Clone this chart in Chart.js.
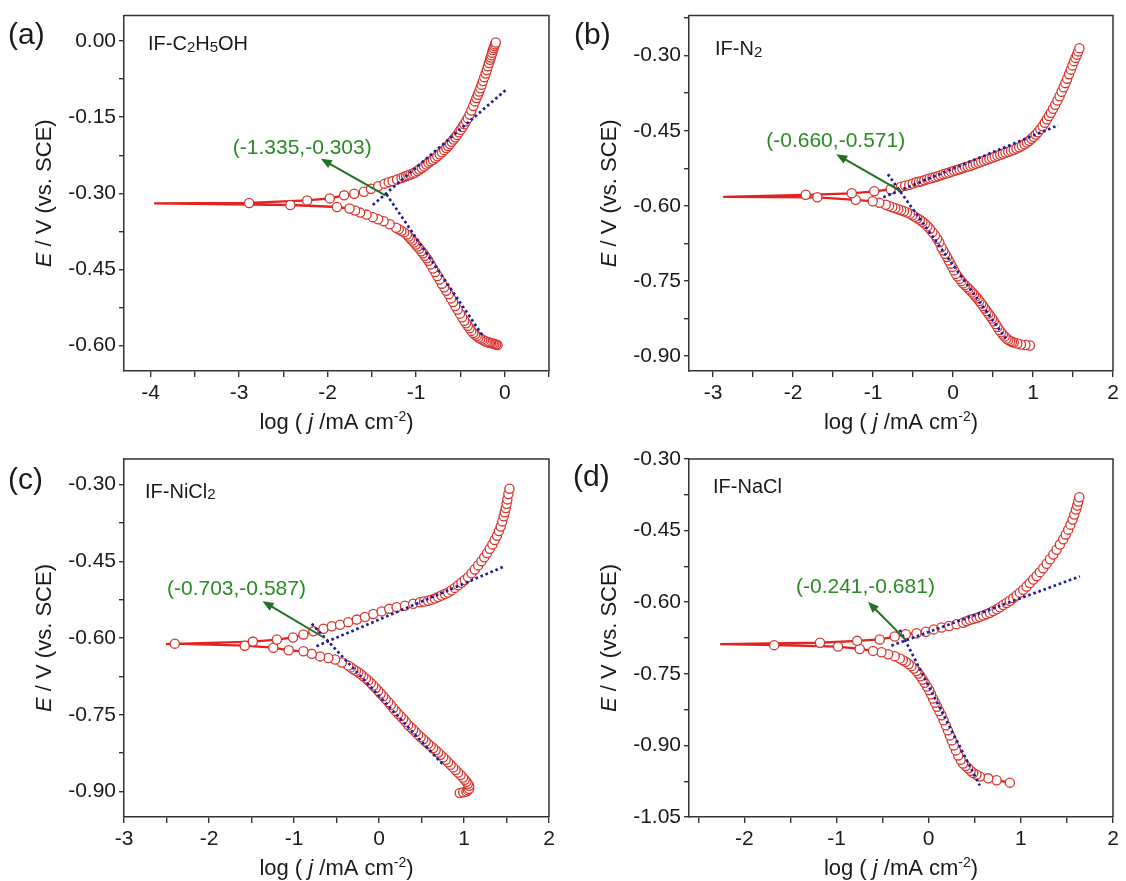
<!DOCTYPE html>
<html>
<head>
<meta charset="utf-8">
<script src="https://cdn.jsdelivr.net/npm/chart.js@4.4.1/dist/chart.umd.min.js"></script>
<style>
  body { margin: 0; background: #fff; }
  #wrap { position: relative; width: 1126px; height: 881px; }
  canvas { position: absolute; }
</style>
</head>
<body>
<div id="wrap">
  <canvas id="pa" width="563" height="440" style="left:0;top:0"></canvas>
  <canvas id="pb" width="563" height="440" style="left:563px;top:0"></canvas>
  <canvas id="pc" width="563" height="441" style="left:0;top:440px"></canvas>
  <canvas id="pd" width="563" height="441" style="left:563px;top:440px"></canvas>
</div>
<script>
// ---- (a) IF-C2H5OH ----
const aLogJ = [-0.081,-0.099,-0.117,-0.135,-0.154,-0.168,-0.182,-0.198,-0.215,-0.235,-0.255,-0.275,-0.296,-0.316,-0.336,-0.356,-0.377,-0.397,-0.417,-0.437,-0.457,-0.481,-0.506,-0.532,-0.559,-0.583,-0.607,-0.633,-0.660,-0.684,-0.709,-0.735,-0.761,-0.785,-0.810,-0.836,-0.862,-0.882,-0.903,-0.923,-0.943,-0.964,-0.984,-1.004,-1.024,-1.045,-1.065,-1.085,-1.105,-1.136,-1.166,-1.197,-1.227,-1.30,-1.368,-1.43,-1.490,-1.56,-1.632,-1.69,-1.753,-1.895,-2.421,-3.960,-2.887,-2.231,-1.976,-1.814,-1.700,-1.591,-1.510,-1.429,-1.356,-1.31,-1.267,-1.216,-1.166,-1.139,-1.113,-1.089,-1.065,-1.038,-1.012,-0.988,-0.964,-0.937,-0.911,-0.886,-0.862,-0.836,-0.810,-0.785,-0.761,-0.735,-0.709,-0.684,-0.660,-0.639,-0.619,-0.599,-0.579,-0.558,-0.538,-0.518,-0.498,-0.477,-0.457,-0.437,-0.417,-0.397,-0.377,-0.356,-0.336,-0.320,-0.304,-0.289,-0.275,-0.261,-0.247,-0.231,-0.215,-0.202,-0.190,-0.178,-0.166,-0.158,-0.150,-0.142,-0.134,-0.125,-0.117,-0.109,-0.101];
const aE    = [-0.599,-0.598,-0.597,-0.596,-0.595,-0.5945,-0.594,-0.593,-0.592,-0.590,-0.588,-0.586,-0.584,-0.581,-0.578,-0.575,-0.571,-0.566,-0.561,-0.556,-0.551,-0.544,-0.537,-0.529,-0.522,-0.514,-0.507,-0.499,-0.492,-0.485,-0.478,-0.470,-0.463,-0.455,-0.448,-0.440,-0.433,-0.428,-0.423,-0.418,-0.414,-0.409,-0.405,-0.401,-0.397,-0.393,-0.389,-0.385,-0.381,-0.377,-0.374,-0.371,-0.368,-0.361,-0.355,-0.351,-0.347,-0.342,-0.338,-0.334,-0.330,-0.327,-0.323,-0.320,-0.319,-0.314,-0.310,-0.304,-0.301,-0.297,-0.291,-0.286,-0.281,-0.278,-0.276,-0.273,-0.270,-0.268,-0.266,-0.2645,-0.263,-0.261,-0.259,-0.256,-0.253,-0.250,-0.247,-0.2435,-0.240,-0.237,-0.234,-0.2305,-0.227,-0.223,-0.219,-0.215,-0.211,-0.207,-0.203,-0.1985,-0.194,-0.1895,-0.185,-0.180,-0.175,-0.1695,-0.164,-0.158,-0.152,-0.145,-0.137,-0.128,-0.119,-0.1125,-0.106,-0.0995,-0.093,-0.086,-0.079,-0.0715,-0.064,-0.057,-0.050,-0.0435,-0.037,-0.0325,-0.028,-0.023,-0.018,-0.014,-0.010,-0.0065,-0.003];
const aAnoLogJ = [-1.49, 0.028], aAnoE = [-0.323, -0.094];
const aCatLogJ = [-1.336, -0.235], aCatE = [-0.302, -0.584];
const aArrowLogJ = [-1.348, -2.077], aArrowE = [-0.304, -0.232];
const aNote = "(-1.335,-0.303)", aNoteAt = [-2.287, -0.211];
const aXRange = [-4.3, 0.5], aYRange = [-0.65, 0.05];
const aXTicks = [-4, -3, -2, -1, 0];
const aYTicks = [0.00, -0.15, -0.30, -0.45, -0.60];

// ---- (b) IF-N2 ----
const bLogJ = [0.962,0.905,0.849,0.804,0.759,0.737,0.714,0.691,0.669,0.646,0.624,0.601,0.578,0.555,0.533,0.510,0.488,0.465,0.443,0.420,0.398,0.375,0.353,0.330,0.308,0.285,0.263,0.240,0.217,0.194,0.172,0.149,0.127,0.104,0.082,0.059,0.037,0.014,-0.008,-0.030,-0.053,-0.075,-0.098,-0.121,-0.144,-0.171,-0.198,-0.225,-0.257,-0.289,-0.320,-0.350,-0.382,-0.414,-0.445,-0.476,-0.507,-0.538,-0.575,-0.612,-0.648,-0.684,-0.721,-0.759,-0.800,-0.841,-0.921,-1.004,-1.216,-1.696,-2.874,-1.841,-1.266,-0.984,-0.779,-0.650,-0.598,-0.546,-0.502,-0.459,-0.425,-0.392,-0.358,-0.324,-0.290,-0.256,-0.222,-0.189,-0.155,-0.121,-0.087,-0.053,-0.020,0.014,0.048,0.082,0.116,0.150,0.183,0.217,0.251,0.285,0.319,0.353,0.387,0.421,0.455,0.488,0.522,0.556,0.590,0.624,0.657,0.691,0.725,0.759,0.793,0.827,0.861,0.894,0.924,0.953,0.980,1.007,1.034,1.061,1.091,1.120,1.147,1.174,1.199,1.224,1.251,1.278,1.305,1.332,1.357,1.382,1.405,1.427,1.450,1.472,1.493,1.513,1.531,1.549,1.565,1.580];
const bE    = [-0.879,-0.878,-0.877,-0.875,-0.873,-0.8715,-0.870,-0.8675,-0.865,-0.861,-0.857,-0.8525,-0.848,-0.842,-0.836,-0.8305,-0.825,-0.820,-0.815,-0.810,-0.805,-0.800,-0.795,-0.790,-0.785,-0.781,-0.777,-0.773,-0.769,-0.7655,-0.762,-0.7585,-0.755,-0.7505,-0.746,-0.741,-0.736,-0.729,-0.722,-0.7155,-0.709,-0.7025,-0.696,-0.6895,-0.683,-0.673,-0.666,-0.659,-0.6525,-0.646,-0.641,-0.636,-0.632,-0.628,-0.625,-0.622,-0.619,-0.616,-0.6135,-0.611,-0.609,-0.607,-0.605,-0.603,-0.6005,-0.598,-0.594,-0.591,-0.588,-0.583,-0.582,-0.578,-0.575,-0.571,-0.567,-0.562,-0.560,-0.558,-0.5555,-0.553,-0.552,-0.551,-0.549,-0.547,-0.5455,-0.544,-0.5425,-0.541,-0.539,-0.537,-0.5355,-0.534,-0.532,-0.530,-0.5285,-0.527,-0.525,-0.523,-0.5215,-0.520,-0.518,-0.516,-0.514,-0.512,-0.510,-0.508,-0.506,-0.504,-0.502,-0.500,-0.498,-0.496,-0.494,-0.492,-0.490,-0.488,-0.4855,-0.483,-0.480,-0.477,-0.4735,-0.470,-0.466,-0.462,-0.4575,-0.453,-0.447,-0.441,-0.434,-0.427,-0.4205,-0.414,-0.406,-0.398,-0.3895,-0.381,-0.372,-0.363,-0.3545,-0.346,-0.337,-0.328,-0.3195,-0.311,-0.3045,-0.298,-0.2915,-0.285];
const bAnoLogJ = [-0.871, 1.316], bAnoE = [-0.583, -0.439];
const bCatLogJ = [-0.814, 0.66], bCatE = [-0.537, -0.865];
const bArrowLogJ = [-0.66, -1.46], bArrowE = [-0.570, -0.497];
const bNote = "(-0.660,-0.571)", bNoteAt = [-1.466, -0.470];
const bXRange = [-3.3, 2], bYRange = [-0.93, -0.22];
const bXTicks = [-3, -2, -1, 0, 1, 2];
const bYTicks = [-0.30, -0.45, -0.60, -0.75, -0.90];

// ---- (c) IF-NiCl2 ----
const cLogJ = [0.950,0.990,1.029,1.045,1.060,1.060,1.045,1.029,1.009,0.989,0.960,0.931,0.901,0.872,0.842,0.813,0.784,0.755,0.725,0.696,0.666,0.637,0.607,0.578,0.549,0.520,0.490,0.461,0.431,0.402,0.373,0.344,0.314,0.285,0.255,0.226,0.196,0.167,0.138,0.109,0.079,0.050,0.020,-0.009,-0.038,-0.067,-0.096,-0.126,-0.155,-0.185,-0.214,-0.243,-0.272,-0.302,-0.331,-0.361,-0.438,-0.517,-0.596,-0.693,-0.791,-0.889,-1.062,-1.243,-1.580,-2.402,-2.507,-1.484,-1.201,-1.012,-0.889,-0.772,-0.654,-0.556,-0.458,-0.361,-0.262,-0.165,-0.067,0.031,0.120,0.207,0.305,0.402,0.481,0.530,0.578,0.617,0.657,0.696,0.735,0.774,0.813,0.853,0.892,0.931,0.970,1.009,1.048,1.088,1.127,1.166,1.205,1.238,1.271,1.303,1.334,1.361,1.388,1.410,1.432,1.450,1.467,1.479,1.491,1.501,1.510,1.522,1.535];
const cE    = [-0.903,-0.9015,-0.900,-0.8975,-0.895,-0.889,-0.885,-0.881,-0.877,-0.873,-0.868,-0.863,-0.858,-0.853,-0.848,-0.843,-0.838,-0.833,-0.8285,-0.824,-0.8195,-0.815,-0.811,-0.807,-0.8025,-0.798,-0.7935,-0.789,-0.784,-0.779,-0.7745,-0.770,-0.764,-0.758,-0.753,-0.748,-0.7425,-0.737,-0.731,-0.725,-0.7195,-0.714,-0.7085,-0.703,-0.698,-0.693,-0.688,-0.683,-0.679,-0.675,-0.671,-0.667,-0.664,-0.661,-0.6575,-0.654,-0.648,-0.642,-0.639,-0.636,-0.631,-0.626,-0.624,-0.619,-0.615,-0.611,-0.612,-0.607,-0.603,-0.599,-0.593,-0.587,-0.582,-0.577,-0.574,-0.569,-0.564,-0.559,-0.553,-0.548,-0.543,-0.540,-0.537,-0.533,-0.530,-0.5285,-0.527,-0.525,-0.523,-0.520,-0.517,-0.514,-0.511,-0.5065,-0.502,-0.497,-0.492,-0.4865,-0.481,-0.4735,-0.466,-0.458,-0.450,-0.442,-0.434,-0.4255,-0.417,-0.4085,-0.400,-0.391,-0.382,-0.372,-0.362,-0.354,-0.346,-0.3375,-0.329,-0.3185,-0.308];
const cAnoLogJ = [-0.735, 1.46], cAnoE = [-0.616, -0.461];
const cCatLogJ = [-0.791, 0.755], cCatE = [-0.572, -0.848];
const cArrowLogJ = [-0.64, -1.37], cArrowE = [-0.600, -0.528];
const cNote = "(-0.703,-0.587)", cNoteAt = [-1.677, -0.504];
const cXRange = [-3, 2], cYRange = [-0.95, -0.25];
const cXTicks = [-3, -2, -1, 0, 1, 2];
const cYTicks = [-0.30, -0.45, -0.60, -0.75, -0.90];

// ---- (d) IF-NaCl ----
const dLogJ = [0.881,0.737,0.646,0.555,0.519,0.483,0.456,0.429,0.401,0.374,0.347,0.320,0.296,0.273,0.251,0.230,0.208,0.186,0.162,0.139,0.115,0.092,0.070,0.048,0.026,0.005,-0.018,-0.042,-0.065,-0.089,-0.110,-0.132,-0.159,-0.187,-0.217,-0.248,-0.280,-0.313,-0.368,-0.440,-0.512,-0.603,-0.748,-0.983,-1.675,-2.262,-1.179,-0.776,-0.531,-0.368,-0.248,-0.132,-0.031,0.056,0.139,0.222,0.302,0.374,0.411,0.447,0.484,0.520,0.556,0.591,0.628,0.664,0.701,0.737,0.773,0.809,0.845,0.881,0.918,0.954,0.990,1.026,1.062,1.098,1.135,1.171,1.207,1.243,1.280,1.316,1.352,1.388,1.424,1.460,1.487,1.514,1.538,1.562,1.580,1.598,1.611,1.623,1.634];
const dE    = [-0.978,-0.973,-0.969,-0.965,-0.9615,-0.958,-0.953,-0.948,-0.943,-0.938,-0.930,-0.921,-0.9105,-0.900,-0.8895,-0.879,-0.8685,-0.858,-0.8475,-0.837,-0.828,-0.819,-0.8105,-0.802,-0.793,-0.784,-0.7765,-0.769,-0.762,-0.755,-0.7495,-0.744,-0.739,-0.734,-0.7295,-0.725,-0.7215,-0.718,-0.713,-0.709,-0.705,-0.702,-0.698,-0.693,-0.690,-0.688,-0.685,-0.681,-0.678,-0.672,-0.667,-0.665,-0.662,-0.657,-0.653,-0.650,-0.646,-0.643,-0.640,-0.637,-0.635,-0.633,-0.6305,-0.628,-0.625,-0.622,-0.6185,-0.615,-0.6105,-0.606,-0.6015,-0.597,-0.5915,-0.586,-0.580,-0.574,-0.567,-0.560,-0.5525,-0.545,-0.537,-0.529,-0.5195,-0.510,-0.500,-0.490,-0.479,-0.468,-0.458,-0.448,-0.4375,-0.427,-0.4165,-0.406,-0.3975,-0.389,-0.380];
const dAnoLogJ = [-0.404, 1.641], dAnoE = [-0.691, -0.546];
const dCatLogJ = [-0.313, 0.555], dCatE = [-0.658, -0.984];
const dArrowLogJ = [-0.248, -0.658], dArrowE = [-0.679, -0.599];
const dNote = "(-0.241,-0.681)", dNoteAt = [-0.686, -0.569];
const dXRange = [-2.6, 2], dYRange = [-1.05, -0.30];
const dXTicks = [-2, -1, 0, 1, 2];
const dYTicks = [-0.30, -0.45, -0.60, -0.75, -0.90, -1.05];

const FONT = "'Liberation Sans', Arial, sans-serif";
const RED = "#e2231f", RED_PT = "#d8342e", BLUE = "#1c1f9c", GREEN_TXT = "#2b8a26", GREEN = "#237023";

const pts = (xs, ys) => xs.map((v, i) => ({ x: v, y: ys[i] }));

// majors plus half-step minors that fall inside the range
function withMinors(majors, range) {
  const step = Math.abs(majors[1] - majors[0]);
  const lo = Math.min(...majors) - step, hi = Math.max(...majors) + step;
  const out = [];
  for (let v = lo; v <= hi + 1e-9; v += step / 2) {
    const r = Math.round(v * 1000) / 1000;
    if (r >= range[0] - 1e-9 && r <= range[1] + 1e-9) out.push(r);
  }
  return out;
}
const isIn = (v, arr) => arr.some(m => Math.abs(m - v) < 1e-6);

function drawRich(ctx, parts, x, y, align) {
  // parts: [text, font, dy]
  let w = 0;
  parts.forEach(p => { ctx.font = p[1]; w += ctx.measureText(p[0]).width; });
  let cx = align === "center" ? x - w / 2 : x;
  ctx.textAlign = "left";
  ctx.textBaseline = "middle";
  parts.forEach(p => { ctx.font = p[1]; ctx.fillText(p[0], cx, y + (p[2] || 0)); cx += ctx.measureText(p[0]).width; });
}

const decor = {
  id: "decor",
  afterDraw(chart) {
    const p = chart.options.plugins.decor;
    const ctx = chart.ctx, a = chart.chartArea;
    const xs = chart.scales.x, ys = chart.scales.y;
    ctx.save();
    // box top / right
    ctx.strokeStyle = "#333";
    ctx.lineWidth = 1.5;
    ctx.beginPath();
    ctx.moveTo(a.left, a.top); ctx.lineTo(a.right, a.top); ctx.lineTo(a.right, a.bottom);
    ctx.stroke();

    ctx.fillStyle = "#1a1a1a";
    // x title
    drawRich(ctx, [
      ["log ( ", `22px ${FONT}`], ["j", `italic 22px ${FONT}`], [" /mA cm", `22px ${FONT}`],
      ["-2", `14px ${FONT}`, -6], [")", `22px ${FONT}`]
    ], (a.left + a.right) / 2, a.bottom + 52, "center");
    // y title
    ctx.save();
    ctx.translate(a.left - 79, (a.top + a.bottom) / 2);
    ctx.rotate(-Math.PI / 2);
    drawRich(ctx, [["E", `italic 22px ${FONT}`], [" / V (vs. SCE)", `22px ${FONT}`]], 0, 0, "center");
    ctx.restore();
    // panel letter
    ctx.font = `30px ${FONT}`;
    ctx.textAlign = "left"; ctx.textBaseline = "middle";
    ctx.fillText(p.letter, p.letterAt[0], p.letterAt[1]);
    // sample label
    drawRich(ctx, p.sample.map(s => s[1] ? [s[0], `15px ${FONT}`, 3] : [s[0], `20px ${FONT}`]),
      a.left + p.sampleOff[0], a.top + p.sampleOff[1], "left");

    // arrow
    const x0 = xs.getPixelForValue(p.arrowX[0]), y0 = ys.getPixelForValue(p.arrowY[0]);
    const x1 = xs.getPixelForValue(p.arrowX[1]), y1 = ys.getPixelForValue(p.arrowY[1]);
    const ang = Math.atan2(y1 - y0, x1 - x0);
    const hl = 11, hw = 4.5;
    ctx.strokeStyle = GREEN; ctx.fillStyle = GREEN; ctx.lineWidth = 2;
    ctx.beginPath();
    ctx.moveTo(x0, y0);
    ctx.lineTo(x1 - Math.cos(ang) * hl * 0.8, y1 - Math.sin(ang) * hl * 0.8);
    ctx.stroke();
    ctx.beginPath();
    ctx.moveTo(x1, y1);
    ctx.lineTo(x1 - Math.cos(ang) * hl - Math.sin(ang) * hw, y1 - Math.sin(ang) * hl + Math.cos(ang) * hw);
    ctx.lineTo(x1 - Math.cos(ang) * hl + Math.sin(ang) * hw, y1 - Math.sin(ang) * hl - Math.cos(ang) * hw);
    ctx.closePath();
    ctx.fill();
    // note
    ctx.fillStyle = GREEN_TXT;
    ctx.font = `21px ${FONT}`;
    ctx.textAlign = "center"; ctx.textBaseline = "middle";
    ctx.fillText(p.note, xs.getPixelForValue(p.noteAt[0]), ys.getPixelForValue(p.noteAt[1]));
    ctx.restore();
  }
};

function panel(p) {
  const minIdx = p.x.indexOf(Math.min(...p.x));
  const xAll = withMinors(p.xTicks, p.xRange);
  const yAll = withMinors(p.yTicks, p.yRange).sort((m, n) => m - n);
  const tickFont = { family: FONT, size: 21 };
  const dotted = { showLine: true, borderColor: BLUE, borderWidth: 2.7, borderDash: [2.6, 2.8], pointRadius: 0 };
  new Chart(document.getElementById(p.id), {
    type: "scatter",
    data: {
      datasets: [
        { ...dotted, data: pts(p.anoX, p.anoY) },
        { ...dotted, data: pts(p.catX, p.catY) },
        {
          data: pts(p.x, p.y), showLine: true, borderColor: RED, borderWidth: 2.3,
          pointRadius: c => (c.dataIndex === minIdx ? 0 : 4.6),
          pointBackgroundColor: "#fff", pointBorderColor: RED_PT, pointBorderWidth: 1.3
        }
      ]
    },
    options: {
      responsive: false, animation: false, devicePixelRatio: 1,
      layout: { padding: { left: 0, top: p.padTop, right: p.padRight, bottom: 0 } },
      plugins: {
        legend: { display: false }, tooltip: { enabled: false },
        decor: p
      },
      scales: {
        x: {
          type: "linear", min: p.xRange[0], max: p.xRange[1],
          afterFit: s => { s.height = p.xHeight; },
          afterBuildTicks: s => { s.ticks = xAll.map(v => ({ value: v })); },
          ticks: { autoSkip: false, maxRotation: 0, padding: 4, color: "#1a1a1a", font: tickFont,
                   callback: v => (isIn(v, p.xTicks) ? String(v) : "") },
          grid: { drawOnChartArea: false, tickLength: 6, color: "#333", lineWidth: 1.4 },
          border: { color: "#333", width: 1.5 }
        },
        y: {
          type: "linear", min: p.yRange[0], max: p.yRange[1],
          afterFit: s => { s.width = p.yWidth; },
          afterBuildTicks: s => { s.ticks = yAll.map(v => ({ value: v })); },
          ticks: { autoSkip: false, padding: 3, color: "#1a1a1a", font: tickFont,
                   callback: v => (isIn(v, p.yTicks) ? v.toFixed(2) : "") },
          grid: { drawOnChartArea: false, tickLength: 5, color: "#333", lineWidth: 1.4 },
          border: { color: "#333", width: 1.5 }
        }
      }
    },
    plugins: [decor]
  });
}

panel({ id: "pa", x: aLogJ, y: aE, anoX: aAnoLogJ, anoY: aAnoE, catX: aCatLogJ, catY: aCatE,
  arrowX: aArrowLogJ, arrowY: aArrowE, note: aNote, noteAt: aNoteAt,
  xRange: aXRange, yRange: aYRange, xTicks: aXTicks, yTicks: aYTicks,
  yWidth: 124, padTop: 14, padRight: 14, xHeight: 69,
  letter: "(a)", letterAt: [8, 36], sample: [["IF-C", 0], ["2", 1], ["H", 0], ["5", 1], ["OH", 0]], sampleOff: [24, 29] });

panel({ id: "pb", x: bLogJ, y: bE, anoX: bAnoLogJ, anoY: bAnoE, catX: bCatLogJ, catY: bCatE,
  arrowX: bArrowLogJ, arrowY: bArrowE, note: bNote, noteAt: bNoteAt,
  xRange: bXRange, yRange: bYRange, xTicks: bXTicks, yTicks: bYTicks,
  yWidth: 126, padTop: 14, padRight: 13, xHeight: 69,
  letter: "(b)", letterAt: [11, 36], sample: [["IF-N", 0], ["2", 1]], sampleOff: [26, 34] });

panel({ id: "pc", x: cLogJ, y: cE, anoX: cAnoLogJ, anoY: cAnoE, catX: cCatLogJ, catY: cCatE,
  arrowX: cArrowLogJ, arrowY: cArrowE, note: cNote, noteAt: cNoteAt,
  xRange: cXRange, yRange: cYRange, xTicks: cXTicks, yTicks: cYTicks,
  yWidth: 124, padTop: 19, padRight: 14, xHeight: 64,
  letter: "(c)", letterAt: [8, 41], sample: [["IF-NiCl", 0], ["2", 1]], sampleOff: [21, 33] });

panel({ id: "pd", x: dLogJ, y: dE, anoX: dAnoLogJ, anoY: dAnoE, catX: dCatLogJ, catY: dCatE,
  arrowX: dArrowLogJ, arrowY: dArrowE, note: dNote, noteAt: dNoteAt,
  xRange: dXRange, yRange: dYRange, xTicks: dXTicks, yTicks: dYTicks,
  yWidth: 126, padTop: 19, padRight: 13, xHeight: 64,
  letter: "(d)", letterAt: [10, 38], sample: [["IF-NaCl", 0]], sampleOff: [24, 28] });
</script>
</body>
</html>
